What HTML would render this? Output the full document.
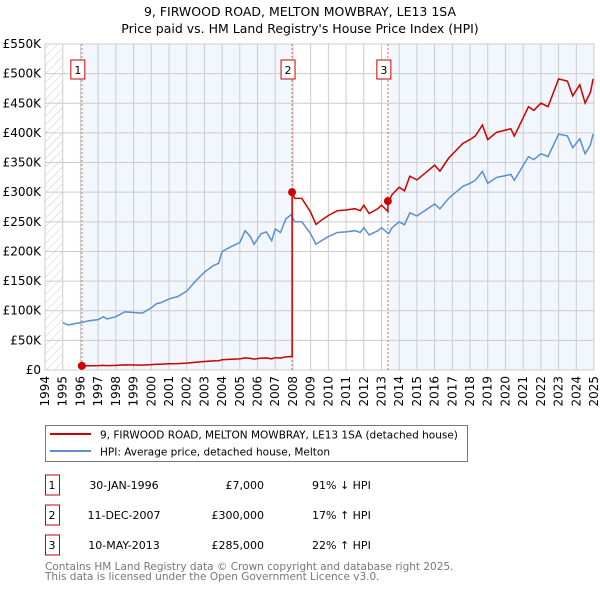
<!DOCTYPE html>
<html><head><meta charset="utf-8"><style>
body{margin:0;background:#fff;font-family:"DejaVu Sans","Liberation Sans",sans-serif;}
svg text{font-family:"DejaVu Sans","Liberation Sans",sans-serif;}
</style></head><body>
<svg id="chart" width="600" height="590" viewBox="0 0 600 590" xmlns="http://www.w3.org/2000/svg">
<defs><pattern id="hatch" width="6" height="6" patternUnits="userSpaceOnUse" patternTransform="rotate(45)"><line x1="0" y1="0" x2="0" y2="6" stroke="#ccc" stroke-width="1"/></pattern>
<clipPath id="clip"><rect x="45" y="44" width="549" height="326"/></clipPath></defs>
<text x="300" y="16" text-anchor="middle" font-size="12.5">9, FIRWOOD ROAD, MELTON MOWBRAY, LE13 1SA</text>
<text x="300" y="33" text-anchor="middle" font-size="12.5">Price paid vs. HM Land Registry's House Price Index (HPI)</text>
<g id="plot"></g>
<g>
<rect x="45.5" y="425.5" width="422" height="36" fill="#fff" stroke="#777"/>
<line x1="50" y1="434" x2="91" y2="434" stroke="#cc0000" stroke-width="2"/>
<text x="100" y="438.5" font-size="10.5">9, FIRWOOD ROAD, MELTON MOWBRAY, LE13 1SA (detached house)</text>
<line x1="50" y1="451" x2="91" y2="451" stroke="#5b8fd0" stroke-width="2"/>
<text x="100" y="455.5" font-size="10.5">HPI: Average price, detached house, Melton</text>
</g>
<g id="table" font-size="11"></g>
<text x="45" y="570" font-size="10.5" fill="#777">Contains HM Land Registry data © Crown copyright and database right 2025.</text>
<text x="45" y="580" font-size="10.5" fill="#777">This data is licensed under the Open Government Licence v3.0.</text>
</svg>
<script>
const hpiYears=[1995.0,1995.3,1996.0,1996.5,1997.0,1997.3,1997.5,1998.0,1998.5,1999.0,1999.5,2000.0,2000.3,2000.5,2001.0,2001.5,2002.0,2002.5,2003.0,2003.5,2003.8,2004.0,2004.5,2005.0,2005.3,2005.6,2005.8,2006.2,2006.5,2006.8,2007.0,2007.3,2007.6,2007.9,2008.1,2008.5,2009.0,2009.3,2009.6,2010.0,2010.5,2011.0,2011.5,2011.8,2012.0,2012.3,2012.8,2013.0,2013.4,2013.6,2014.0,2014.3,2014.6,2015.0,2015.5,2016.0,2016.3,2016.8,2017.2,2017.6,2018.0,2018.3,2018.7,2019.0,2019.5,2020.0,2020.3,2020.5,2021.0,2021.3,2021.6,2022.0,2022.4,2022.8,2023.0,2023.5,2023.8,2024.2,2024.5,2024.8,2024.95];
const hpiValues=[80,76,80,83,85,90,86,90,98,97,96,105,112,113,120,124,133,150,165,176,180,200,208,215,235,225,212,230,233,218,238,232,255,262,250,250,230,212,218,225,232,233,235,232,240,228,235,240,230,240,250,245,265,260,270,280,272,290,300,310,315,320,335,315,325,328,330,320,345,360,355,365,360,385,398,395,375,390,365,380,398].map(v=>v*1000);
const saleYears=[1996.08,2007.95,2013.36];
const salePrices=[7000,300000,285000];
const saleLabels=["1","2","3"];
const saleDates=["30-JAN-1996","11-DEC-2007","10-MAY-2013"];
const salePriceText=["£7,000","£300,000","£285,000"];
const saleHpiText=["91% ↓ HPI","17% ↑ HPI","22% ↑ HPI"];
const yTicks=[0,50000,100000,150000,200000,250000,300000,350000,400000,450000,500000,550000];
const yTickLabels=["£0","£50K","£100K","£150K","£200K","£250K","£300K","£350K","£400K","£450K","£500K","£550K"];
const xTickYears=[1994,1995,1996,1997,1998,1999,2000,2001,2002,2003,2004,2005,2006,2007,2008,2009,2010,2011,2012,2013,2014,2015,2016,2017,2018,2019,2020,2021,2022,2023,2024,2025];

const L=45,R=594,T=44,B=370;
const x=yr=>L+(yr-1994)*(R-L)/31;
const y=v=>B-v/550000*(B-T);
const NS="http://www.w3.org/2000/svg";
const plot=document.getElementById('plot');
function mk(tag,attrs,parent){const e=document.createElementNS(NS,tag);for(const k in attrs)e.setAttribute(k,attrs[k]);(parent||plot).appendChild(e);return e;}
function hpiAt(yr){for(let i=0;i<hpiYears.length-1;i++){if(yr>=hpiYears[i]&&yr<=hpiYears[i+1]){const t=(yr-hpiYears[i])/(hpiYears[i+1]-hpiYears[i]);return hpiValues[i]+t*(hpiValues[i+1]-hpiValues[i]);}}return hpiValues[hpiValues.length-1];}

let e=mk('rect',{x:L,y:T,width:R-L,height:B-T,fill:'#fff'});


e=mk('rect',{x:L,y:T,width:x(1995)-L,height:B-T,fill:'url(#hatch)'});


const shadeRanges=[[saleYears[0],saleYears[1]],[saleYears[2],2025]];
shadeRanges.forEach(r=>{
  const s=mk('rect',{x:x(r[0]),y:T,width:x(r[1])-x(r[0]),height:B-T,fill:'#f2f6fd'});
  
  
});
yTicks.forEach((v,i)=>{
  const g=mk('line',{x1:L,x2:R,y1:y(v),y2:y(v),stroke:'#ccc','stroke-width':1});
  
  
  const t=mk('text',{x:L-4,y:y(v)+4,'text-anchor':'end','font-size':12});
  t.textContent=yTickLabels[i];
  
  
});
xTickYears.forEach(yr=>{
  const g=mk('line',{x1:x(yr),x2:x(yr),y1:T,y2:B,stroke:'#ccc','stroke-width':1});
  
  
  const t=mk('text',{x:0,y:0,'text-anchor':'end','font-size':12,transform:`translate(${x(yr)+4},${B+6}) rotate(-90)`});
  t.textContent=yr;
  
  
});
e=mk('rect',{x:L,y:T,width:R-L,height:B-T,fill:'none',stroke:'#ccc'});


saleYears.forEach((yr,i)=>{
  const l=mk('line',{x1:x(yr),x2:x(yr),y1:T,y2:B,stroke:'#e06666','stroke-width':1,'stroke-dasharray':'2,2'});
  
  
  const b=mk('rect',{x:x(yr)-11,y:60,width:14,height:19,fill:'#fff',stroke:'#cc0000'});
  
  
  const t=mk('text',{x:x(yr)-4,y:74,'text-anchor':'middle','font-size':11});
  t.textContent=saleLabels[i];
  
  
});
const cg=mk('g',{'clip-path':'url(#clip)'});
let d=hpiYears.map((yr,i)=>(i?'L':'M')+x(yr).toFixed(1)+','+y(hpiValues[i]).toFixed(1)).join('');
e=mk('path',{d:d,fill:'none',stroke:'#5b8fd0','stroke-width':1.5},cg);


let pd='';let started=false;
const lastYr=hpiYears[hpiYears.length-1];
for(let s=0;s<saleYears.length;s++){
  const ratio=salePrices[s]/hpiAt(saleYears[s]);
  const end=s<saleYears.length-1?saleYears[s+1]:lastYr;
  const pts=[saleYears[s]].concat(hpiYears.filter(yr=>yr>saleYears[s]&&yr<end)).concat([end]);
  pts.forEach(yr=>{
    const v=hpiAt(yr)*ratio;
    pd+=(started?'L':'M')+x(yr).toFixed(1)+','+y(v).toFixed(1);started=true;
  });
  if(s<saleYears.length-1)pd+='L'+x(saleYears[s+1]).toFixed(1)+','+y(salePrices[s+1]).toFixed(1);
}
e=mk('path',{d:pd,fill:'none',stroke:'#cc0000','stroke-width':1.5},cg);


saleYears.forEach((yr,i)=>{
  const c=mk('circle',{cx:x(yr),cy:y(salePrices[i]),r:4,fill:'#cc0000'});
  
  
});
const tb=document.getElementById('table');
const rowY=[485,515,545];
saleLabels.forEach((lab,i)=>{
  const b=mk('rect',{x:45.5,y:rowY[i]-10,width:14,height:20,fill:'#fff',stroke:'#cc0000'},tb);
  
  
  const cells=[[52,'middle',lab],[124,'middle',saleDates[i]],[264,'end',salePriceText[i]],[312,'start',saleHpiText[i]]];
  cells.forEach(c=>{
    const t=mk('text',{x:c[0],y:rowY[i]+4,'text-anchor':c[1]},tb);
    t.textContent=c[2];
    
    
  });
});
</script>
</body></html>
